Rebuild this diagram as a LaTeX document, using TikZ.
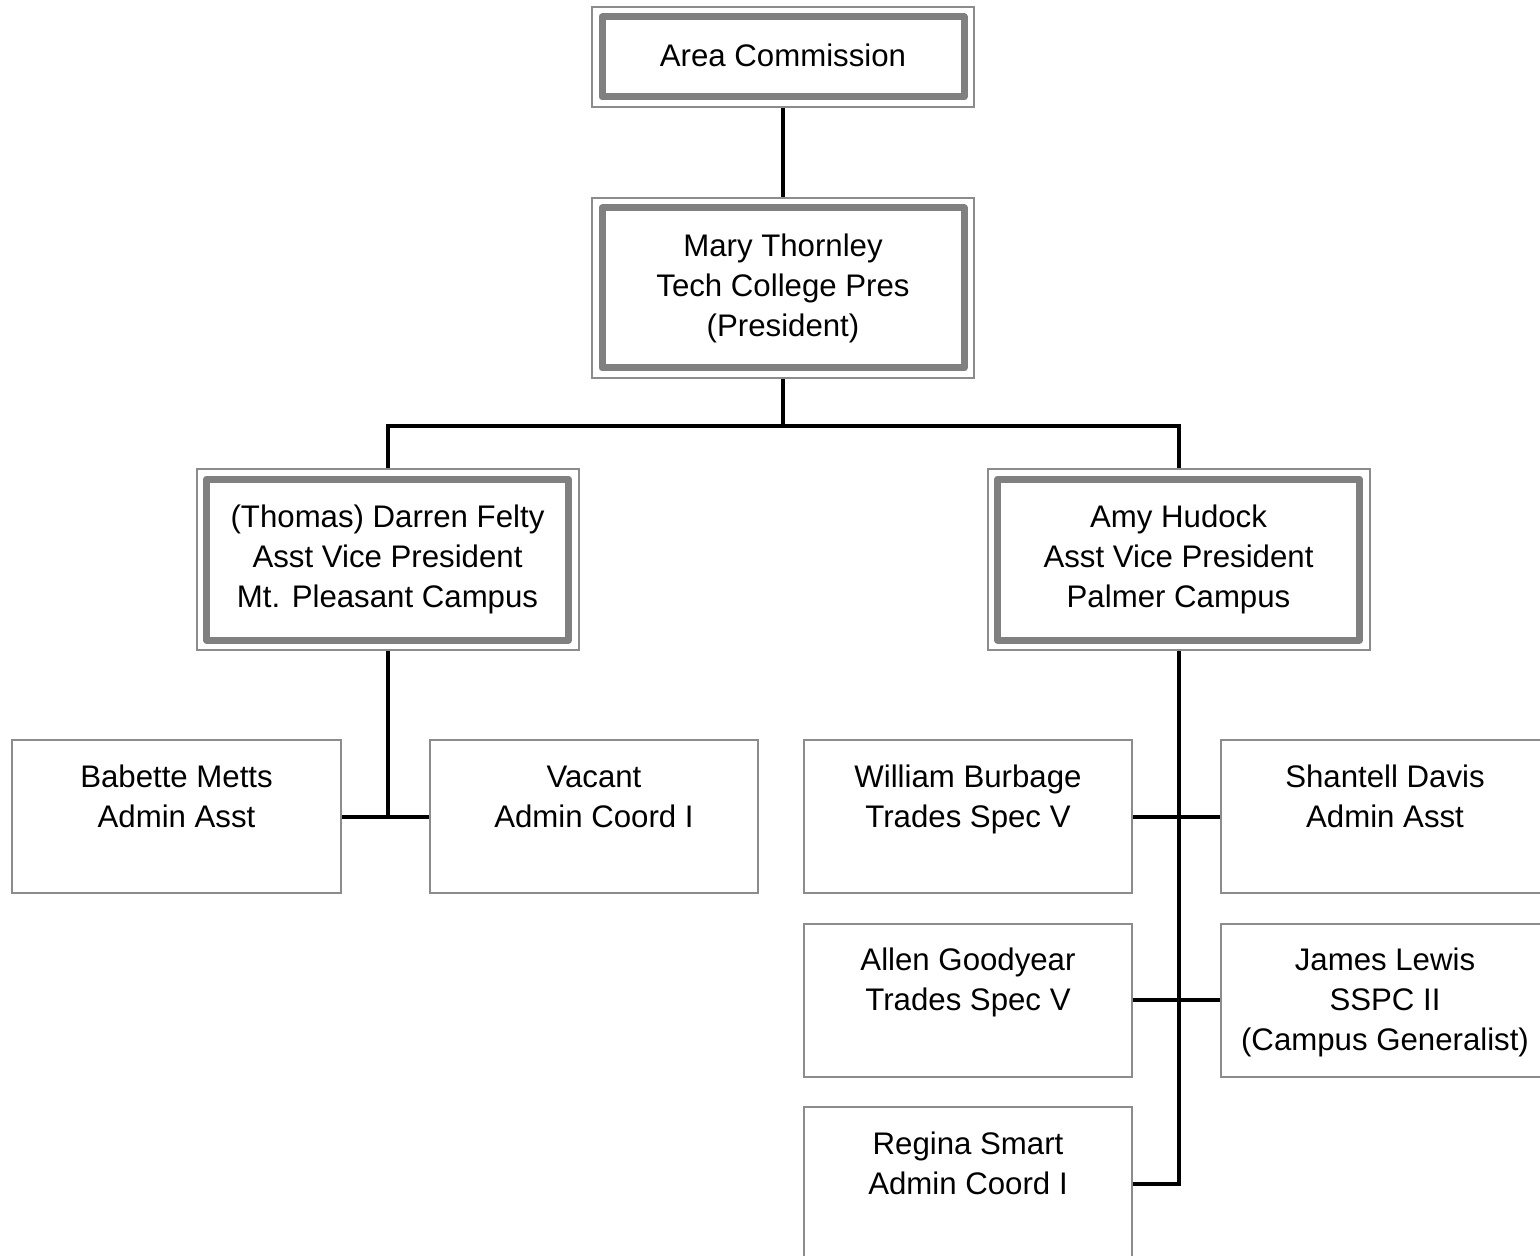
\documentclass[tikz,border=0pt]{standalone}
\usepackage{fontspec}
\setmainfont{Liberation Sans}
\definecolor{boxgray}{RGB}{128,128,128}
\definecolor{thingray}{RGB}{140,140,140}
\tikzset{
  every node/.style={font=\fontsize{15.6}{20}\selectfont},
  dblbox/.style={draw=thingray, line width=1pt, minimum width=191pt, inner sep=0pt, align=center, fill=white},
  innerframe/.style={draw=boxgray, line width=3.5pt, line join=round},
  plainbox/.style={draw=thingray, line width=1pt, minimum width=164pt, minimum height=76.5pt, inner sep=0pt},
  boxtext/.style={anchor=north, align=center, inner sep=0pt},
  conn/.style={draw=black, line width=2pt},
}
\newcommand{\innerfr}[1]{\draw[innerframe] ([shift={(11,11)}]#1.north west) rectangle ([shift={(-11,-11)}]#1.south east);}
\newcommand{\fl}{\vphantom{bl}}
\begin{document}
\begin{tikzpicture}[x=0.5pt,y=-0.5pt]
\useasboundingbox (0,0) rectangle (1540,1256);
% double boxes
\node[dblbox, minimum height=50pt] (ac) at (783,57) {\raisebox{1.5pt}{Area Commission}};
\node[dblbox, minimum height=90pt] (mt) at (783,288) {Mary Thornley\\Tech College Pres\\(President)};
\node[dblbox, minimum height=90.5pt] (df) at (387.5,559.5) {(Thomas) Darren Felty\\Asst Vice President\\Mt. Pleasant Campus};
\node[dblbox, minimum height=90.5pt] (ah) at (1178.5,559.5) {Amy Hudock\\Asst Vice President\\Palmer Campus};
\innerfr{ac}\innerfr{mt}\innerfr{df}\innerfr{ah}
% plain boxes
\node[plainbox, minimum width=164.5pt] (bm) at (176.5,816.5) {};
\node[plainbox] (va) at (594,816.5) {};
\node[plainbox] (wb) at (968,816.5) {};
\node[plainbox] (sd) at (1385,816.5) {};
\node[plainbox] (ag) at (968,1000) {};
\node[plainbox] (jl) at (1385,1000) {};
\node[plainbox] (rs) at (968,1183.5) {};
% texts
\node[boxtext] (tbm) at ([yshift=-12.5pt]bm.north) {\fl Babette Metts\\Admin Asst};
\node[boxtext] (tva) at ([yshift=-12.5pt]va.north) {\fl Vacant\\Admin Coord I};
\node[boxtext] (twb) at ([yshift=-12.5pt]wb.north) {\fl William Burbage\\Trades Spec V};
\node[boxtext] (tsd) at ([yshift=-12.5pt]sd.north) {\fl Shantell Davis\\Admin Asst};
\node[boxtext] (tag) at ([yshift=-12.5pt]ag.north) {\fl Allen Goodyear\\Trades Spec V};
\node[boxtext] (tjl) at ([yshift=-12.5pt]jl.north) {\fl James Lewis\\SSPC II\\(Campus Generalist)};
\node[boxtext] (trs) at ([yshift=-12.5pt]rs.north) {\fl Regina Smart\\Admin Coord I};
% connectors
\coordinate (j1) at ([yshift=-23.5pt]mt.south);
\draw[conn] (ac.south) -- (mt.north);
\draw[conn] (mt.south) -- (j1);
\draw[conn] (df.north) |- (j1) -| (ah.north);
\draw[conn] (df.south) |- (bm.east);
\draw[conn] (bm.east) -- (va.west);
\draw[conn] (ah.south) |- (rs.east);
\draw[conn] (wb.east) -- (sd.west);
\draw[conn] (ag.east) -- (jl.west);
\end{tikzpicture}
\end{document}
